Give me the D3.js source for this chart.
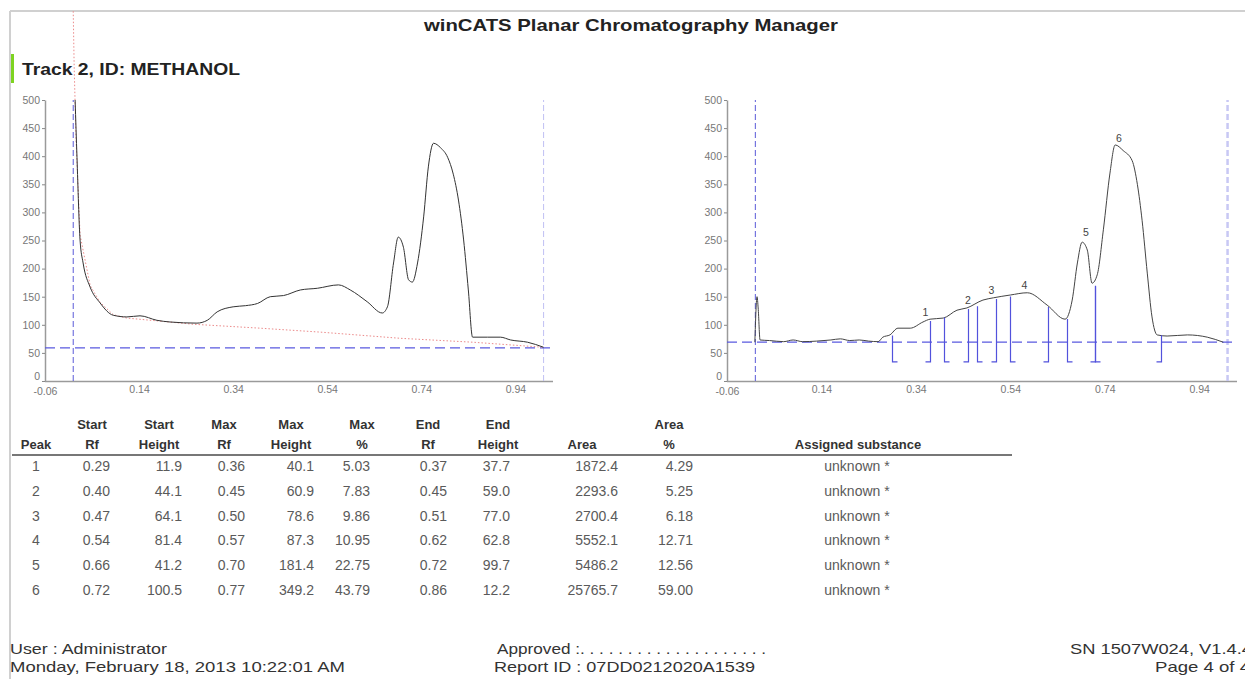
<!DOCTYPE html>
<html>
<head>
<meta charset="utf-8">
<script src="https://cdn.jsdelivr.net/npm/d3@7/dist/d3.min.js"></script>
<style>
  body { margin: 0; background: #fff; }
  svg text { font-family: "Liberation Sans", Arial, sans-serif; }
</style>
</head>
<body>
<svg id="screen" width="1245" height="679"></svg>
<script>
// Tick labels
var xTicks = [-0.06, 0.14, 0.34, 0.54, 0.74, 0.94];
var yTicks = [0, 50, 100, 150, 200, 250, 300, 350, 400, 450, 500];

// Left densitogram (raw signal)
var leftRf  = [0.004, 0.008, 0.0145, 0.021, 0.036, 0.057, 0.085, 0.114, 0.142, 0.178, 0.206, 0.263, 0.285, 0.306, 0.340, 0.366, 0.392, 0.419, 0.447, 0.483, 0.519, 0.564, 0.589, 0.625, 0.657, 0.668, 0.681, 0.691, 0.702, 0.713, 0.721, 0.732, 0.745, 0.755, 0.766, 0.781, 0.796, 0.808, 0.819, 0.830, 0.840, 0.849, 0.881, 0.908, 0.930, 0.966, 1.0];
var leftSig = [500, 398, 251, 210, 167, 139, 117, 114, 116, 108, 105, 103, 108, 123, 132, 134, 138, 150, 152, 162, 165, 171, 162, 141, 121, 132, 210, 256, 238, 180, 176, 210, 292, 381, 423, 415, 398, 368, 322, 251, 162, 78, 78, 78, 73, 69, 60];

// Left baseline (red dotted)
var baseRf  = [0.0, 0.002, 0.006, 0.0145, 0.036, 0.057, 0.085, 0.114, 0.255, 0.397, 0.525, 0.695, 0.85, 1.0];
var baseVal = [658, 560, 430, 260, 170, 140, 118, 112, 101, 94, 87, 76, 69, 60];

// Right densitogram (integrated)
var rightRf  = [-0.001, 0.0036, 0.006, 0.01, 0.03, 0.06, 0.08, 0.10, 0.13, 0.16, 0.18, 0.20, 0.22, 0.24, 0.26, 0.27, 0.285, 0.302, 0.328, 0.355, 0.37, 0.398, 0.427, 0.448, 0.482, 0.504, 0.54, 0.576, 0.618, 0.656, 0.671, 0.682, 0.692, 0.703, 0.713, 0.724, 0.737, 0.751, 0.762, 0.779, 0.798, 0.809, 0.819, 0.83, 0.84, 0.851, 0.872, 0.915, 0.957, 0.991];
var rightSig = [69, 150, 130, 73, 72, 70, 73, 70, 71, 73, 75, 72, 73, 71, 70, 78, 82, 94, 94, 105, 110, 112, 126, 130, 144, 148, 153, 157, 135, 110, 144, 210, 247, 233, 174, 189, 269, 370, 420, 410, 392, 350, 286, 192, 114, 82, 80, 82, 78, 69];

// Baselines (horizontal dashed)
var leftLevel = 59;
var rightLevel = 69;

// Peak table
var peakNo      = [1, 2, 3, 4, 5, 6];
var startRf     = [0.29, 0.40, 0.47, 0.54, 0.66, 0.72];
var startHeight = [11.9, 44.1, 64.1, 81.4, 41.2, 100.5];
var maxRf       = [0.36, 0.45, 0.50, 0.57, 0.70, 0.77];
var maxHeight   = [40.1, 60.9, 78.6, 87.3, 181.4, 349.2];
var maxPct      = [5.03, 7.83, 9.86, 10.95, 22.75, 43.79];
var endRf       = [0.37, 0.45, 0.51, 0.62, 0.72, 0.86];
var endHeight   = [37.7, 59.0, 77.0, 62.8, 99.7, 12.2];
var area        = [1872.4, 2293.6, 2700.4, 5552.1, 5486.2, 25765.7];
var areaPct     = [4.29, 5.25, 6.18, 12.71, 12.56, 59.00];
var substance   = ["unknown *", "unknown *", "unknown *", "unknown *", "unknown *", "unknown *"];

var svg = d3.select("#screen");

// page frame
svg.append("line").attr("x1", 10).attr("y1", 11).attr("x2", 1245).attr("y2", 11)
  .attr("stroke", "#d0d0d0").attr("stroke-width", 2);
svg.append("line").attr("x1", 10).attr("y1", 11).attr("x2", 10).attr("y2", 679)
  .attr("stroke", "#d0d0d0").attr("stroke-width", 2);

svg.append("text").attr("x", 631).attr("y", 31).attr("text-anchor", "middle")
  .attr("font-size", 17).attr("font-weight", "bold").attr("fill", "#222")
  .attr("textLength", 414).attr("lengthAdjust", "spacingAndGlyphs")
  .text("winCATS Planar Chromatography Manager");

svg.append("rect").attr("x", 11).attr("y", 54).attr("width", 3).attr("height", 29).attr("fill", "#7ed321");
svg.append("text").attr("x", 22).attr("y", 75)
  .attr("font-size", 17).attr("font-weight", "bold").attr("fill", "#222")
  .attr("textLength", 218).attr("lengthAdjust", "spacingAndGlyphs")
  .text("Track 2, ID: METHANOL");

var y = d3.scaleLinear().domain([0, 500]).range([381, 100]);

function axes(x, x0, x1) {
  var gy = svg.append("g").attr("transform", "translate(" + x0 + ",0)")
    .call(d3.axisLeft(y).tickValues(yTicks).tickSize(3).tickSizeOuter(0).tickPadding(2));
  var gx = svg.append("g").attr("transform", "translate(0,381)")
    .call(d3.axisBottom(x).tickValues(xTicks).tickSize(0).tickSizeOuter(0).tickPadding(5)
      .tickFormat(function(d){ return d.toFixed(2); }));
  [gy, gx].forEach(function(g){
    g.select(".domain").attr("stroke", "#9a9a9a").attr("stroke-width", 1.5);
    g.selectAll(".tick line").attr("stroke", "#888");
    g.selectAll(".tick text").attr("fill", "#777").attr("font-size", 10.5)
      .attr("font-family", "'Liberation Sans Narrow','Liberation Sans',Arial,sans-serif");
  });
  // the "0" label sits just above the first x label, as in the report
  gy.selectAll(".tick text").filter(function(d){ return d === 0; }).attr("dy", "-0.1em");
  gx.selectAll(".tick text").filter(function(d){ return d === xTicks[0]; }).attr("dy", "0.9em");
  // extend x axis line to the right edge
  gx.select(".domain").attr("d", "M" + x0 + ",0.5H" + x1);
}

function guides(x, level, x0, x1, endColor, endWidth) {
  svg.append("line").attr("x1", x(0)).attr("x2", x(0)).attr("y1", y(0)).attr("y2", y(500))
    .attr("stroke", "#5a5ad8").attr("stroke-dasharray", "6,3");
  svg.append("line").attr("x1", x(1)).attr("x2", x(1)).attr("y1", y(0)).attr("y2", y(500))
    .attr("stroke", endColor).attr("stroke-width", endWidth).attr("stroke-dasharray", "6,3");
  svg.append("line").attr("x1", x0).attr("x2", x1).attr("y1", y(level)).attr("y2", y(level))
    .attr("stroke", "#5a5ae0").attr("stroke-width", 1.2).attr("stroke-dasharray", "10,5");
}

// ---------- left chart ----------
var xl = d3.scaleLinear().domain([-0.06, 1.02]).range([45, 553]);
axes(xl, 45, 553);
guides(xl, leftLevel, 45, 553, "#c0c0f4", 1);

var lineL = d3.line().x(function(d){ return xl(d[0]); }).y(function(d){ return y(d[1]); });
svg.append("path").datum(d3.zip(baseRf, baseVal)).attr("d", lineL)
  .attr("fill", "none").attr("stroke", "#ec8a8a").attr("stroke-width", 1).attr("stroke-dasharray", "1.5,2");
svg.append("path").datum(d3.zip(leftRf, leftSig)).attr("d", lineL.curve(d3.curveMonotoneX))
  .attr("fill", "none").attr("stroke", "#333").attr("stroke-width", 1);

// ---------- right chart ----------
var xr = d3.scaleLinear().domain([-0.06, 1.02]).range([727, 1237]);
axes(xr, 727, 1237);
guides(xr, rightLevel, 727, 1237, "#c8c8f4", 2.5);

var lineR = d3.line().x(function(d){ return xr(d[0]); }).y(function(d){ return y(d[1]); })
  .curve(d3.curveMonotoneX);
svg.append("path").datum(d3.zip(rightRf, rightSig)).attr("d", lineR)
  .attr("fill", "none").attr("stroke", "#444").attr("stroke-width", 1);

// peak limits: start bracket "[" and end bracket "]"
var footY = y(34);
var marks = [];
peakNo.forEach(function(p, i){
  marks.push({rf: startRf[i], h: startHeight[i] + rightLevel, dir: 1});
  marks.push({rf: endRf[i], h: endHeight[i] + rightLevel, dir: -1});
});
var gm = svg.append("g").attr("stroke", "#5252dc").attr("fill", "none").attr("stroke-width", 1.2);
gm.selectAll("path").data(marks).enter().append("path")
  .attr("d", function(d){
    var px = Math.round(xr(d.rf)) + 0.5;
    return "M" + px + "," + y(d.h) + "V" + footY + "h" + (5 * d.dir);
  });
svg.selectAll("text.peak").data(peakNo).enter().append("text").attr("class", "peak")
  .attr("x", function(d, i){ return xr(maxRf[i]); })
  .attr("y", function(d, i){ return y(maxHeight[i] + rightLevel) - 4; })
  .attr("text-anchor", "middle").attr("font-size", 10.5).attr("fill", "#444")
  .text(function(d){ return d; });

// ---------- table ----------
var cols = [
  {h1: "",      h2: "Peak",   hx: 36,  x: 36,  anchor: "middle", v: peakNo,      f: function(d){ return d; }},
  {h1: "Start", h2: "Rf",     hx: 92,  x: 110, anchor: "end",    v: startRf,     f: function(d){ return d.toFixed(2); }},
  {h1: "Start", h2: "Height", hx: 159, x: 182, anchor: "end",    v: startHeight, f: function(d){ return d.toFixed(1); }},
  {h1: "Max",   h2: "Rf",     hx: 224, x: 245, anchor: "end",    v: maxRf,       f: function(d){ return d.toFixed(2); }},
  {h1: "Max",   h2: "Height", hx: 291, x: 314, anchor: "end",    v: maxHeight,   f: function(d){ return d.toFixed(1); }},
  {h1: "Max",   h2: "%",      hx: 362, x: 370, anchor: "end",    v: maxPct,      f: function(d){ return d.toFixed(2); }},
  {h1: "End",   h2: "Rf",     hx: 428, x: 447, anchor: "end",    v: endRf,       f: function(d){ return d.toFixed(2); }},
  {h1: "End",   h2: "Height", hx: 498, x: 510, anchor: "end",    v: endHeight,   f: function(d){ return d.toFixed(1); }},
  {h1: "",      h2: "Area",   hx: 582, x: 618, anchor: "end",    v: area,        f: function(d){ return d.toFixed(1); }},
  {h1: "Area",  h2: "%",      hx: 669, x: 693, anchor: "end",    v: areaPct,     f: function(d){ return d.toFixed(2); }},
  {h1: "",      h2: "Assigned substance", hx: 858, x: 857, anchor: "middle", v: substance, f: function(d){ return d; }}
];
var gt = svg.append("g");
cols.forEach(function(c){
  gt.append("text").attr("x", c.hx).attr("y", 429).attr("text-anchor", "middle")
    .attr("font-size", 13).attr("font-weight", "bold").attr("fill", "#333").text(c.h1);
  gt.append("text").attr("x", c.hx).attr("y", 449).attr("text-anchor", "middle")
    .attr("font-size", 13).attr("font-weight", "bold").attr("fill", "#333").text(c.h2);
  gt.selectAll(null).data(c.v).enter().append("text")
    .attr("x", c.x).attr("y", function(d, i){ return 471 + i * 24.8; })
    .attr("text-anchor", c.anchor).attr("font-size", 14).attr("fill", "#5a5a5a")
    .text(c.f);
});
svg.append("line").attr("x1", 12).attr("x2", 1012).attr("y1", 455).attr("y2", 455)
  .attr("stroke", "#777").attr("stroke-width", 2);

// ---------- footer ----------
var footer = [
  {t: "User : Administrator", x: 10, y: 654, w: 157},
  {t: "Monday, February 18, 2013 10:22:01 AM", x: 10, y: 672, w: 335},
  {t: "Approved :. . . . . . . . . . . . . . . . . . . .", x: 497, y: 654, w: 269},
  {t: "Report ID : 07DD0212020A1539", x: 494, y: 672, w: 261},
  {t: "SN 1507W024, V1.4.4", x: 1070, y: 654, w: 182},
  {t: "Page 4 of 4", x: 1155, y: 672, w: 95}
];
svg.selectAll("text.foot").data(footer).enter().append("text").attr("class", "foot")
  .attr("x", function(d){ return d.x; }).attr("y", function(d){ return d.y; })
  .attr("font-size", 15).attr("fill", "#333")
  .attr("font-family", "'Liberation Sans Narrow','Liberation Sans',Arial,sans-serif")
  .attr("textLength", function(d){ return d.w; }).attr("lengthAdjust", "spacingAndGlyphs")
  .text(function(d){ return d.t; });
</script>
</body>
</html>
